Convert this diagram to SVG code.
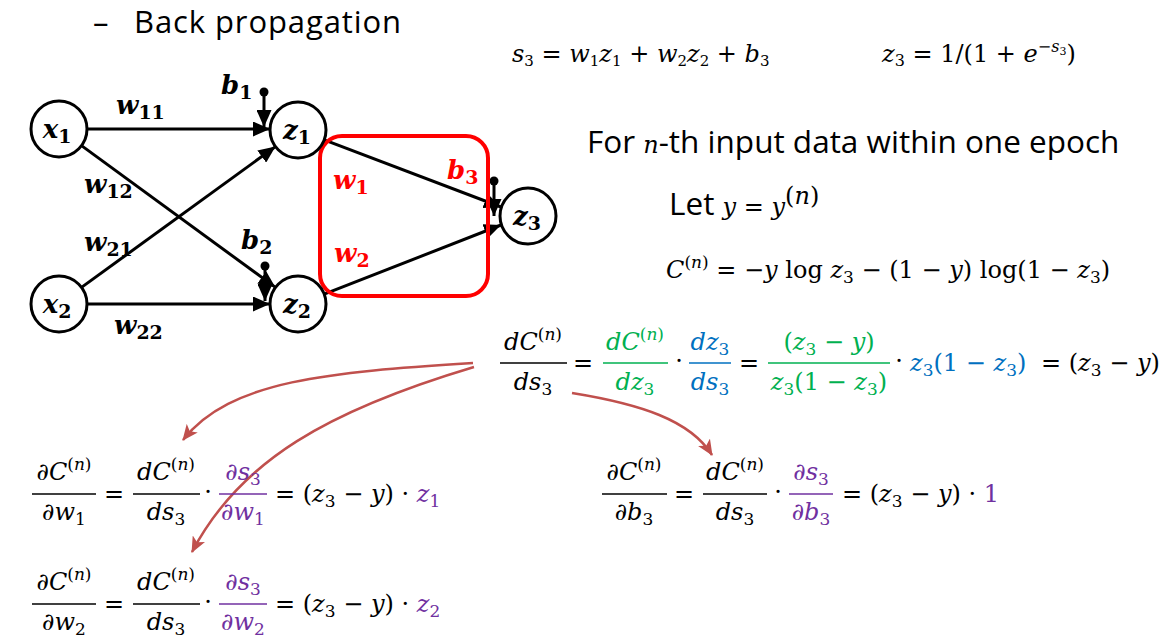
<svg xmlns="http://www.w3.org/2000/svg" width="1172" height="644" viewBox="0 0 1172 644">
<defs>
<style>
.t{font-family:"Open Sans","Noto Sans",sans-serif;fill:#000}
.m{font-family:"DejaVu Serif","Liberation Serif",serif;font-style:italic;font-size:24px;fill:#000}
.u{font-style:normal}
.s{font-size:17px;font-style:normal}
.nl{font-family:"DejaVu Serif","Liberation Serif",serif;font-style:italic;font-weight:bold;font-size:26px}
.ns{font-size:19px;font-style:normal}
.red{fill:#FF0000}
.g{fill:#00B050}.b{fill:#0070C0}.p{fill:#7030A0}
.node circle{fill:#fff;stroke:#000;stroke-width:3}
.e{stroke:#000;stroke-width:3;fill:none}
.fl{stroke:#000;stroke-width:1.6}
.arc{stroke:#C0504D;stroke-width:2.5;fill:none}
</style>
<marker id="ah" markerUnits="userSpaceOnUse" viewBox="0 0 17 15" markerWidth="17" markerHeight="15" refX="17" refY="7.5" orient="auto"><path d="M0,0 L17,7.5 L0,15 z" fill="#000"/></marker>
<marker id="ra" markerUnits="userSpaceOnUse" viewBox="0 0 16 14" markerWidth="16" markerHeight="14" refX="15" refY="7" orient="auto"><path d="M0,0 L16,7 L0,14 L4,7 z" fill="#C0504D"/></marker>
</defs>

<text class="t" x="93" y="33" font-size="31">–</text>
<text class="t" x="134" y="33" font-size="31" letter-spacing="0.9">Back propagation</text>

<g id="connectors">
<line class="e" x1="87" y1="129" x2="270" y2="129" marker-end="url(#ah)"/>
<line class="e" x1="81.5" y1="145.6" x2="275.5" y2="287.4" marker-end="url(#ah)"/>
<line class="e" x1="81.5" y1="287.4" x2="275.5" y2="146.6" marker-end="url(#ah)"/>
<line class="e" x1="87" y1="304" x2="270" y2="304" marker-end="url(#ah)"/>
<line class="e" x1="324.2" y1="139.8" x2="501" y2="207" marker-end="url(#ah)"/>
<line class="e" x1="324.2" y1="294.2" x2="501" y2="225" marker-end="url(#ah)"/>
<circle cx="264" cy="92" r="4.5" fill="#000"/>
<line class="e" x1="264" y1="92" x2="264" y2="127" marker-end="url(#ah)"/>
<circle cx="265" cy="266" r="4.5" fill="#000"/>
<line class="e" x1="265" y1="266" x2="265" y2="301" marker-end="url(#ah)"/>
<circle cx="494" cy="181" r="4.5" fill="#000"/>
<line class="e" x1="494" y1="181" x2="494" y2="216" marker-end="url(#ah)"/>
<path class="arc" d="M473,363 C330,372 230,380 183,440" marker-end="url(#ra)"/>
<path class="arc" d="M474,367 C330,410 240,460 192,552" marker-end="url(#ra)"/>
<path class="arc" d="M572,393 C640,404 690,420 712,455" marker-end="url(#ra)"/>
</g>

<rect x="320" y="136" width="168" height="160" rx="22" fill="none" stroke="#FF0000" stroke-width="4"/>

<g id="x1" class="node"><circle cx="59" cy="129" r="28"/><text class="nl" x="57" y="138" text-anchor="middle">x<tspan class="ns" dy="5">1</tspan></text></g>
<g id="x2" class="node"><circle cx="59" cy="304" r="28"/><text class="nl" x="57" y="313" text-anchor="middle">x<tspan class="ns" dy="5">2</tspan></text></g>
<g id="z1" class="node"><circle cx="298" cy="130" r="28"/><text class="nl" x="297" y="139" text-anchor="middle">z<tspan class="ns" dy="5">1</tspan></text></g>
<g id="z2" class="node"><circle cx="298" cy="304" r="28"/><text class="nl" x="297" y="313" text-anchor="middle">z<tspan class="ns" dy="5">2</tspan></text></g>
<g id="z3" class="node"><circle cx="528" cy="216" r="28"/><text class="nl" x="527" y="225" text-anchor="middle">z<tspan class="ns" dy="5">3</tspan></text></g>

<g id="labels">
<text class="nl" x="221" y="94">b<tspan class="ns" dy="5">1</tspan></text>
<text class="nl" x="116" y="114">w<tspan class="ns" dy="5">11</tspan></text>
<text class="nl" x="84" y="193">w<tspan class="ns" dy="5">12</tspan></text>
<text class="nl" x="84" y="251">w<tspan class="ns" dy="5">21</tspan></text>
<text class="nl" x="241" y="249">b<tspan class="ns" dy="5">2</tspan></text>
<text class="nl" x="114" y="334">w<tspan class="ns" dy="5">22</tspan></text>
<text class="nl red" x="333" y="189">w<tspan class="ns" dy="5">1</tspan></text>
<text class="nl red" x="334" y="262">w<tspan class="ns" dy="5">2</tspan></text>
<text class="nl red" x="447" y="179">b<tspan class="ns" dy="5">3</tspan></text>
</g>

<g id="top-formulas">
<text class="m" x="512" y="62" font-size="22.5">s<tspan class="u" font-size="15" dy="4">3</tspan><tspan class="u" dy="-4"> = </tspan>w<tspan class="u" font-size="15" dy="4">1</tspan><tspan dy="-4">z</tspan><tspan class="u" font-size="15" dy="4">1</tspan><tspan class="u" dy="-4"> + </tspan>w<tspan class="u" font-size="15" dy="4">2</tspan><tspan dy="-4">z</tspan><tspan class="u" font-size="15" dy="4">2</tspan><tspan class="u" dy="-4"> + </tspan>b<tspan class="u" font-size="15" dy="4">3</tspan></text>
<text class="m" x="882" y="62" font-size="24">z<tspan class="u" font-size="16" dy="4">3</tspan><tspan class="u" dy="-4"> = 1/(1 + </tspan>e<tspan class="u" font-size="16" dy="-10">−</tspan><tspan font-size="16">s</tspan><tspan class="u" font-size="11" dy="3">3</tspan><tspan class="u" dy="7">)</tspan></text>
<text class="t" x="587" y="153" font-size="31.5">For <tspan class="m" font-size="27">n</tspan>-th input data within one epoch</text>
<text class="t" x="669" y="215" font-size="31.5">Let <tspan class="m" font-size="24">y</tspan><tspan class="m u" font-size="24"> = </tspan><tspan class="m" font-size="24">y</tspan><tspan class="m u" font-size="17" dy="-11">(</tspan><tspan class="m" font-size="17">n</tspan><tspan class="m u" font-size="17">)</tspan></text>
<text class="m" x="666" y="278">C<tspan class="s" dy="-10">(</tspan><tspan font-size="17">n</tspan><tspan class="s">)</tspan><tspan class="u" dy="10"> = −</tspan>y<tspan class="u"> log </tspan>z<tspan class="s" dy="5">3</tspan><tspan class="u" dy="-5"> − (1 − </tspan>y<tspan class="u">) log(1 − </tspan>z<tspan class="s" dy="5">3</tspan><tspan class="u" dy="-5">)</tspan></text>
</g>

<g id="chain-formula">
<text class="m" x="533" y="350" text-anchor="middle">dC<tspan class="s" dy="-10">(</tspan><tspan font-size="17">n</tspan><tspan class="s">)</tspan></text>
<line class="fl" x1="500" y1="363" x2="567" y2="363"/>
<text class="m" x="533" y="390" text-anchor="middle">ds<tspan class="s" dy="5">3</tspan></text>
<text class="m u" x="583" y="371" text-anchor="middle">=</text>
<text class="m g" x="635" y="350" text-anchor="middle">dC<tspan class="s" dy="-10">(</tspan><tspan font-size="17">n</tspan><tspan class="s">)</tspan></text>
<line x1="603" y1="363" x2="668" y2="363" stroke="#00B050" stroke-width="1.6"/>
<text class="m g" x="635" y="390" text-anchor="middle">dz<tspan class="s" dy="5">3</tspan></text>
<text class="m u" x="679" y="369" text-anchor="middle">·</text>
<text class="m b" x="710" y="350" text-anchor="middle">dz<tspan class="s" dy="5">3</tspan></text>
<line x1="689" y1="363" x2="731" y2="363" stroke="#0070C0" stroke-width="1.6"/>
<text class="m b" x="710" y="390" text-anchor="middle">ds<tspan class="s" dy="5">3</tspan></text>
<text class="m u" x="749" y="371" text-anchor="middle">=</text>
<text class="m g" x="829" y="350" text-anchor="middle"><tspan class="u">(</tspan>z<tspan class="s" dy="5">3</tspan><tspan class="u" dy="-5"> − </tspan>y<tspan class="u">)</tspan></text>
<line x1="768" y1="363" x2="890" y2="363" stroke="#00B050" stroke-width="1.6"/>
<text class="m g" x="829" y="390" text-anchor="middle">z<tspan class="s" dy="5">3</tspan><tspan class="u" dy="-5">(1 − </tspan>z<tspan class="s" dy="5">3</tspan><tspan class="u" dy="-5">)</tspan></text>
<text class="m u" x="899" y="369" text-anchor="middle">·</text>
<text class="m b" x="910" y="371">z<tspan class="s" dy="5">3</tspan><tspan class="u" dy="-5">(1 − </tspan>z<tspan class="s" dy="5">3</tspan><tspan class="u" dy="-5">)</tspan></text>
<text class="m" x="1041" y="371"><tspan class="u">= (</tspan>z<tspan class="s" dy="5">3</tspan><tspan class="u" dy="-5"> − </tspan>y<tspan class="u">)</tspan></text>
</g>

<g id="dw1">
<text class="m" x="64" y="480" text-anchor="middle">∂C<tspan class="s" dy="-10">(</tspan><tspan font-size="17">n</tspan><tspan class="s">)</tspan></text>
<line class="fl" x1="32" y1="494" x2="96" y2="494"/>
<text class="m" x="64" y="520" text-anchor="middle">∂w<tspan class="s" dy="5">1</tspan></text>
<text class="m u" x="114" y="502" text-anchor="middle">=</text>
<text class="m" x="166" y="480" text-anchor="middle">dC<tspan class="s" dy="-10">(</tspan><tspan font-size="17">n</tspan><tspan class="s">)</tspan></text>
<line class="fl" x1="133" y1="494" x2="200" y2="494"/>
<text class="m" x="166" y="520" text-anchor="middle">ds<tspan class="s" dy="5">3</tspan></text>
<text class="m u" x="208" y="500" text-anchor="middle">·</text>
<text class="m p" x="243" y="480" text-anchor="middle">∂s<tspan class="s" dy="5">3</tspan></text>
<line x1="219" y1="494" x2="267" y2="494" stroke="#7030A0" stroke-width="1.6"/>
<text class="m p" x="243" y="520" text-anchor="middle">∂w<tspan class="s" dy="5">1</tspan></text>
<text class="m" x="275" y="502"><tspan class="u">= (</tspan>z<tspan class="s" dy="5">3</tspan><tspan class="u" dy="-5"> − </tspan>y<tspan class="u">) · </tspan><tspan class="p">z</tspan><tspan class="s p" dy="5">1</tspan></text>
</g>

<g id="dw2">
<text class="m" x="64" y="590" text-anchor="middle">∂C<tspan class="s" dy="-10">(</tspan><tspan font-size="17">n</tspan><tspan class="s">)</tspan></text>
<line class="fl" x1="32" y1="604" x2="96" y2="604"/>
<text class="m" x="64" y="630" text-anchor="middle">∂w<tspan class="s" dy="5">2</tspan></text>
<text class="m u" x="114" y="612" text-anchor="middle">=</text>
<text class="m" x="166" y="590" text-anchor="middle">dC<tspan class="s" dy="-10">(</tspan><tspan font-size="17">n</tspan><tspan class="s">)</tspan></text>
<line class="fl" x1="133" y1="604" x2="200" y2="604"/>
<text class="m" x="166" y="630" text-anchor="middle">ds<tspan class="s" dy="5">3</tspan></text>
<text class="m u" x="208" y="610" text-anchor="middle">·</text>
<text class="m p" x="243" y="590" text-anchor="middle">∂s<tspan class="s" dy="5">3</tspan></text>
<line x1="219" y1="604" x2="267" y2="604" stroke="#7030A0" stroke-width="1.6"/>
<text class="m p" x="243" y="630" text-anchor="middle">∂w<tspan class="s" dy="5">2</tspan></text>
<text class="m" x="275" y="612"><tspan class="u">= (</tspan>z<tspan class="s" dy="5">3</tspan><tspan class="u" dy="-5"> − </tspan>y<tspan class="u">) · </tspan><tspan class="p">z</tspan><tspan class="s p" dy="5">2</tspan></text>
</g>

<g id="db3">
<text class="m" x="634" y="480" text-anchor="middle">∂C<tspan class="s" dy="-10">(</tspan><tspan font-size="17">n</tspan><tspan class="s">)</tspan></text>
<line class="fl" x1="602" y1="494" x2="667" y2="494"/>
<text class="m" x="634" y="520" text-anchor="middle">∂b<tspan class="s" dy="5">3</tspan></text>
<text class="m u" x="684" y="502" text-anchor="middle">=</text>
<text class="m" x="735" y="480" text-anchor="middle">dC<tspan class="s" dy="-10">(</tspan><tspan font-size="17">n</tspan><tspan class="s">)</tspan></text>
<line class="fl" x1="703" y1="494" x2="767" y2="494"/>
<text class="m" x="735" y="520" text-anchor="middle">ds<tspan class="s" dy="5">3</tspan></text>
<text class="m u" x="778" y="500" text-anchor="middle">·</text>
<text class="m p" x="811" y="480" text-anchor="middle">∂s<tspan class="s" dy="5">3</tspan></text>
<line x1="789" y1="494" x2="833" y2="494" stroke="#7030A0" stroke-width="1.6"/>
<text class="m p" x="811" y="520" text-anchor="middle">∂b<tspan class="s" dy="5">3</tspan></text>
<text class="m" x="842" y="502"><tspan class="u">= (</tspan>z<tspan class="s" dy="5">3</tspan><tspan class="u" dy="-5"> − </tspan>y<tspan class="u">) · </tspan><tspan class="u p">1</tspan></text>
</g>
</svg>
